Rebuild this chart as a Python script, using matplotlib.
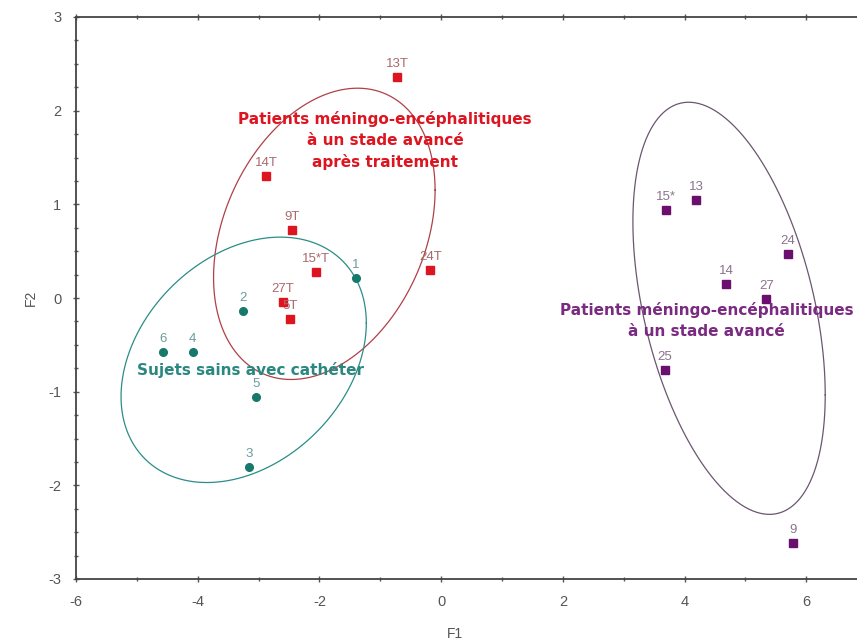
import numpy as np
import matplotlib
matplotlib.use("Agg")
import matplotlib.pyplot as plt
from matplotlib.ticker import MultipleLocator

plt.rcParams['font.family'] = ['Liberation Sans', 'DejaVu Sans']
plt.rcParams['axes.unicode_minus'] = False

# Sujets sains avec cathéter (ronds verts)
sains_lab = ['1', '2', '6', '4', '5', '3']
sains_x = [-1.40, -3.26, -4.57, -4.08, -3.04, -3.16]
sains_y = [0.21, -0.14, -0.58, -0.58, -1.06, -1.80]

# Patients après traitement (carrés rouges)
trait_lab = ['13T', '14T', '9T', '15*T', '24T', '27T', '5T']
trait_x = [-0.72, -2.88, -2.45, -2.06, -0.18, -2.60, -2.48]
trait_y = [2.36, 1.30, 0.73, 0.28, 0.30, -0.04, -0.22]

# Patients stade avancé (carrés violets)
avance_lab = ['15*', '13', '24', '14', '27', '25', '9']
avance_x = [3.70, 4.19, 5.70, 4.68, 5.34, 3.68, 5.78]
avance_y = [0.94, 1.05, 0.47, 0.15, -0.01, -0.77, -2.62]

# ellipses : centre x, centre y, demi-étendue x, demi-étendue y, cos(déphasage)
ell_sains = [-3.245, -0.66, 2.015, 1.31, 0.30]
ell_trait = [-1.92, 0.685, 1.82, 1.555, 0.30]
ell_avance = [4.73, -0.11, 1.58, 2.20, -0.42]

# libellés des groupes
txt_trait = ['Patients méningo-encéphalitiques', 'à un stade avancé', 'après traitement']
txt_sains = ['Sujets sains avec cathéter']
txt_avance = ['Patients méningo-encéphalitiques', 'à un stade avancé']

C_SAINS = '#17786c'
C_TRAIT = '#dd1520'
C_AVANCE = '#6a0f6e'


def ellipse_pts(p, n=300):
    cx, cy, rx, ry, c = p
    phi = np.arccos(c)
    t = np.linspace(0, 2 * np.pi, n)
    return cx + rx * np.cos(t), cy + ry * np.cos(t - phi)


def group_text(ax, lines, x, y, color):
    # une ligne par texte, centrées autour du point (x, y)
    n = len(lines)
    for i, s in enumerate(lines):
        dy = ((n - 1) / 2 - i) * 15.5
        ax.annotate(s, (x, y), xytext=(0, dy), textcoords='offset points',
                    ha='center', va='center', fontsize=11, fontweight='bold',
                    family=['DejaVu Sans'], color=color)


fig = plt.figure(figsize=(8.57, 6.44), dpi=100)
ax = fig.add_axes([76 / 857, 65 / 644, 846 / 857, 562 / 644])
ax.set_xlim(-6, 7.9)
ax.set_ylim(-3, 3)

ex, ey = ellipse_pts(ell_trait)
ax.plot(ex, ey, color='#b04048', lw=0.9)
ex, ey = ellipse_pts(ell_sains)
ax.plot(ex, ey, color='#2a8d86', lw=0.9)
ex, ey = ellipse_pts(ell_avance)
ax.plot(ex, ey, color='#6b5670', lw=0.9)

ax.plot(sains_x, sains_y, 'o', color=C_SAINS, ms=5.5, mec=C_SAINS)
ax.plot(trait_x, trait_y, 's', color=C_TRAIT, ms=5.5, mec=C_TRAIT)
ax.plot(avance_x, avance_y, 's', color=C_AVANCE, ms=5.5, mec=C_AVANCE)

for lab, x, y in zip(sains_lab, sains_x, sains_y):
    ax.annotate(lab, (x, y), xytext=(0, 5), textcoords='offset points',
                ha='center', va='bottom', fontsize=9.5, color='#6a9c9a')
for lab, x, y in zip(trait_lab, trait_x, trait_y):
    ax.annotate(lab, (x, y), xytext=(0, 5), textcoords='offset points',
                ha='center', va='bottom', fontsize=9.5, color='#a86a6e')
for lab, x, y in zip(avance_lab, avance_x, avance_y):
    ax.annotate(lab, (x, y), xytext=(0, 5), textcoords='offset points',
                ha='center', va='bottom', fontsize=9.5, color='#8c728e')

group_text(ax, txt_trait, -0.92, 1.68, C_TRAIT)
group_text(ax, txt_sains, -3.14, -0.77, '#2a8880')
group_text(ax, txt_avance, 4.36, -0.24, '#7a2a80')

ax.set_xlabel('F1', fontsize=10, color='#555555')
ax.xaxis.set_label_coords(379 / 846, -0.085)
ax.set_ylabel('F2', fontsize=10, color='#555555')
ax.yaxis.set_label_coords(-0.045, 0.5)

ax.xaxis.set_major_locator(MultipleLocator(2))
ax.xaxis.set_minor_locator(MultipleLocator(1))
ax.yaxis.set_major_locator(MultipleLocator(1))
ax.yaxis.set_minor_locator(MultipleLocator(0.25))
ax.tick_params(which='both', direction='inout', top=True, right=False,
               colors='#555555', labelsize=10.5, labelcolor='#555555')
ax.tick_params(which='major', length=5, width=1)
ax.tick_params(which='minor', length=3, width=1)
ax.tick_params(axis='x', which='major', pad=9)
ax.tick_params(axis='y', which='major', pad=8)
for s in ['left', 'bottom', 'top']:
    ax.spines[s].set_color('#444444')
    ax.spines[s].set_linewidth(1.3)
ax.spines['right'].set_visible(False)

fig.savefig('out.png', dpi=100)
